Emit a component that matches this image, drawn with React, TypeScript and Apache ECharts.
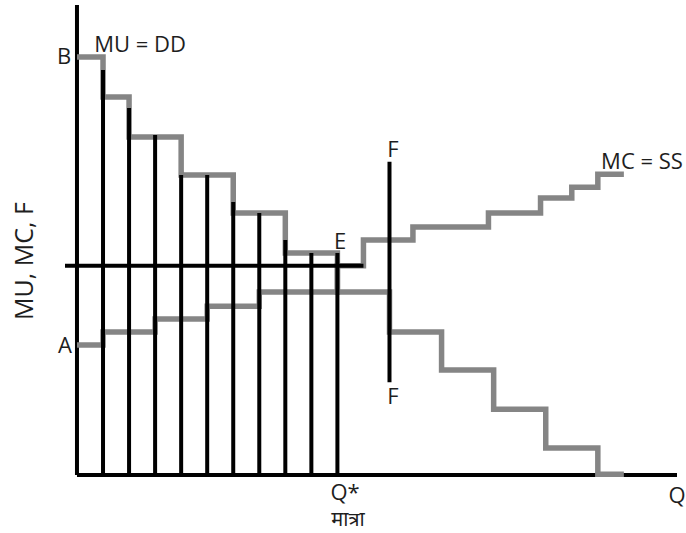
import React, { useEffect, useRef } from "react";
import * as echarts from "echarts";

// MU = DD step curve: quantity breakpoints and the level held between them
const muBreaks = [0, 1, 2, 4, 6, 8, 10, 12, 14, 16, 18, 20, 21];
const muLevels = [10.67, 9.65, 8.63, 7.66, 6.69, 5.67, 4.67, 3.65, 2.68, 1.68, 0.69, 0.02];
// MC = SS step curve
const mcBreaks = [0, 1, 3, 5, 7, 10, 11, 12.9, 15.8, 17.8, 19, 20, 21];
const mcLevels = [3.32, 3.65, 3.98, 4.31, 4.67, 5.34, 6.0, 6.33, 6.69, 7.07, 7.35, 7.68];
// black vertical bars under the MU curve
const barX = [1, 2, 3, 4, 5, 6, 7, 8, 9, 10];
const barTops = [10.34, 9.37, 8.68, 7.66, 7.66, 6.97, 6.69, 6.0, 5.67, 5.67];
// price line through E and the F line
const priceLevel = 5.34;
const priceFrom = -0.46;
const priceTo = 11;
const fX = 12;
const fBottom = 2.37;
const fTop = 8.0;

const X_MIN = -0.46;
const X_MAX = 23.04;
const Y_MAX = 12;

function steps(breaks: number[], levels: number[]) {
  const pts: number[][] = [];
  for (let i = 0; i < levels.length; i++) {
    pts.push([breaks[i], levels[i]]);
    pts.push([breaks[i + 1], levels[i]]);
  }
  return pts;
}

const GRAY = "#858585";
const FONT = "'Open Sans', 'Noto Sans', sans-serif";
const TXT = "#1e1e1e";

function label(text: string, x: number, y: number, extra: any = {}, size = 22) {
  return {
    type: "text",
    x,
    y,
    z: 10,
    ...extra,
    style: {
      text,
      fill: TXT,
      font: `${size}px ${FONT}`,
      align: "center",
      verticalAlign: "middle",
    },
  };
}

const blackLine = (data: number[][], z = 3) => ({
  type: "line",
  data,
  showSymbol: false,
  clip: false,
  z,
  lineStyle: { color: "#000", width: 4, cap: "butt" },
});

export default function App() {
  const ref = useRef<HTMLDivElement>(null);
  useEffect(() => {
    document.body.style.margin = "0";
    const chart = echarts.init(ref.current!, null, { renderer: "svg" });
    chart.setOption({
      animation: false,
      backgroundColor: "#ffffff",
      grid: { left: 65, right: 9, top: 5, bottom: 58 },
      xAxis: {
        type: "value",
        min: X_MIN,
        max: X_MAX,
        axisLine: { show: false },
        axisTick: { show: false },
        axisLabel: { show: false },
        splitLine: { show: false },
      },
      yAxis: {
        type: "value",
        min: 0,
        max: Y_MAX,
        axisLine: { show: false },
        axisTick: { show: false },
        axisLabel: { show: false },
        splitLine: { show: false },
      },
      series: [
        // axes
        blackLine([[0, 0], [X_MAX, 0]], 1),
        blackLine([[0, 0], [0, Y_MAX]], 1),
        {
          name: "MU = DD",
          type: "line",
          data: steps(muBreaks, muLevels),
          showSymbol: false,
          z: 2,
          lineStyle: { color: GRAY, width: 5.5, cap: "butt", join: "miter" },
        },
        {
          name: "MC = SS",
          type: "line",
          data: steps(mcBreaks, mcLevels),
          showSymbol: false,
          z: 2,
          lineStyle: { color: GRAY, width: 5.5, cap: "butt", join: "miter" },
        },
        {
          name: "bars",
          type: "bar",
          data: barX.map((x, i) => [x, barTops[i]]),
          barWidth: 4,
          z: 3,
          itemStyle: { color: "#000" },
        },
        blackLine([
          [priceFrom, priceLevel],
          [priceTo, priceLevel],
        ]),
        blackLine([
          [fX, fBottom],
          [fX, fTop],
        ]),
      ],
      graphic: [
        label("MU = DD", 140, 43),
        label("B", 64, 55),
        label("A", 65, 344),
        label("E", 340, 240),
        label("F", 393, 148),
        label("F", 393, 395),
        label("MC = SS", 642, 160),
        label("Q*", 345, 491),
        label("मात्रा", 348, 518, {}, 20),
        label("Q", 677, 494),
        label("MU, MC, F", 23, 261, { rotation: Math.PI / 2 }, 25),
      ],
    });
    return () => chart.dispose();
  }, []);
  return (
    <div
      ref={ref}
      style={{ position: "absolute", left: 0, top: 0, width: 686, height: 533 }}
    />
  );
}
